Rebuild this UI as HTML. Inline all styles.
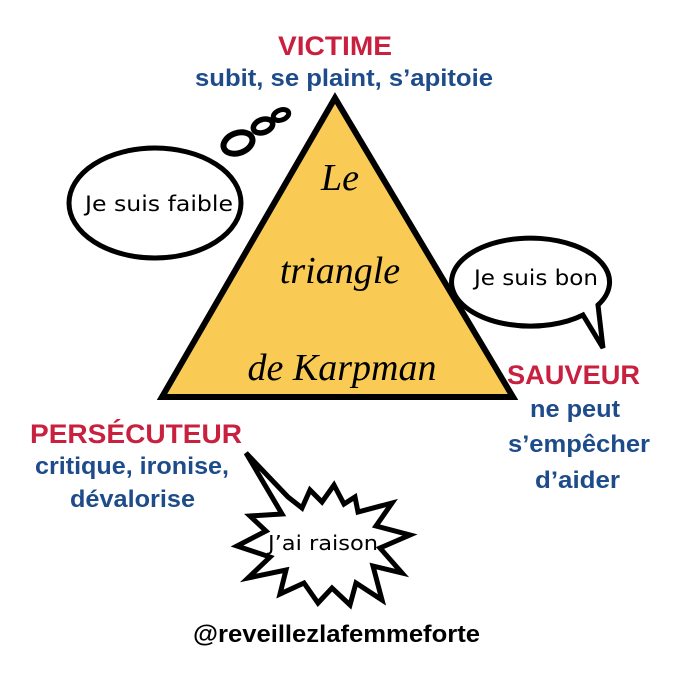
<!DOCTYPE html>
<html><head><meta charset="utf-8"><style>
body{margin:0;background:#fff}
svg{display:block}
.h{font-family:"Liberation Sans",sans-serif;font-weight:bold}
.c{font-family:"DejaVu Sans",sans-serif}
.s{font-family:"Liberation Serif",serif;font-style:italic}
</style></head><body>
<svg width="675" height="675" viewBox="0 0 675 675">
<rect width="675" height="675" fill="#fff"/>
<polygon points="335,98 162,397 513,397" fill="#F9CB55" stroke="#000" stroke-width="6" stroke-linejoin="miter"/>
<ellipse cx="155" cy="203" rx="86" ry="55" fill="#fff" stroke="#000" stroke-width="5"/>
<ellipse cx="238" cy="143" rx="15" ry="10" fill="#fff" stroke="#000" stroke-width="6" transform="rotate(-20 238 143)"/>
<ellipse cx="263" cy="126" rx="10" ry="6.5" fill="#fff" stroke="#000" stroke-width="5.5" transform="rotate(-20 263 126)"/>
<ellipse cx="281" cy="115" rx="8" ry="5" fill="#fff" stroke="#000" stroke-width="5" transform="rotate(-20 281 115)"/>
<path d="M583,315 A79,44 0 1 1 598,305 L603,348 Z" fill="#fff" stroke="#000" stroke-width="5" stroke-linejoin="miter"/>
<polygon points="246,453 288,497 302,508 310,490 322,502 334,485 344,504 355,497 358,512 392,503 376,526 410,535 380,548 402,573 373,566 382,600 356,583 350,605 332,588 318,603 304,583 280,594 286,570 248,578 270,557 237,546 266,531 250,516 282,514" fill="#fff" stroke="#000" stroke-width="5" stroke-linejoin="miter"/>
<text x="278" y="55" textLength="114" lengthAdjust="spacingAndGlyphs" class="h" font-size="27" fill="#C8203F">VICTIME</text>
<text x="195" y="86" textLength="298" lengthAdjust="spacingAndGlyphs" class="h" font-size="24" fill="#1E4C8A">subit, se plaint, s’apitoie</text>
<text x="85" y="211" textLength="148" lengthAdjust="spacingAndGlyphs" class="c" font-size="21">Je suis faible</text>
<text x="474" y="285" textLength="124" lengthAdjust="spacingAndGlyphs" class="c" font-size="21">Je suis bon</text>
<text x="268" y="550" textLength="110" lengthAdjust="spacingAndGlyphs" class="c" font-size="20">J’ai raison</text>
<text x="340" y="190" text-anchor="middle" class="s" font-size="38">Le</text>
<text x="340" y="283" text-anchor="middle" class="s" font-size="38">triangle</text>
<text x="342" y="380" text-anchor="middle" class="s" font-size="38">de Karpman</text>
<text x="507" y="384" textLength="133" lengthAdjust="spacingAndGlyphs" class="h" font-size="27" fill="#C8203F">SAUVEUR</text>
<text x="530" y="417" textLength="90" lengthAdjust="spacingAndGlyphs" class="h" font-size="24" fill="#1E4C8A">ne peut</text>
<text x="508" y="452" textLength="142" lengthAdjust="spacingAndGlyphs" class="h" font-size="24" fill="#1E4C8A">s’empêcher</text>
<text x="535" y="488" textLength="85" lengthAdjust="spacingAndGlyphs" class="h" font-size="24" fill="#1E4C8A">d’aider</text>
<text x="30" y="443" textLength="212" lengthAdjust="spacingAndGlyphs" class="h" font-size="27" fill="#C8203F">PERSÉCUTEUR</text>
<text x="35" y="474" textLength="194" lengthAdjust="spacingAndGlyphs" class="h" font-size="24" fill="#1E4C8A">critique, ironise,</text>
<text x="70" y="507" textLength="125" lengthAdjust="spacingAndGlyphs" class="h" font-size="24" fill="#1E4C8A">dévalorise</text>
<text x="193" y="642" textLength="287" lengthAdjust="spacingAndGlyphs" class="h" font-size="24" fill="#000">@reveillezlafemmeforte</text>
</svg>
</body></html>
